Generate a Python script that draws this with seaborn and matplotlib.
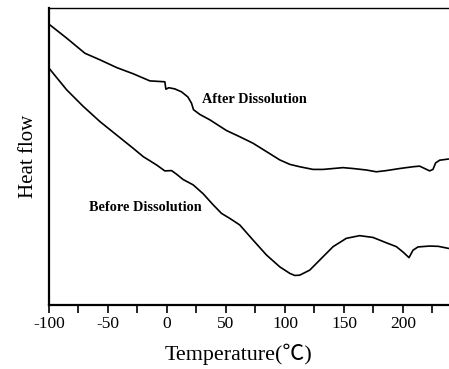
import pandas as pd
import matplotlib.pyplot as plt
import seaborn as sns
from matplotlib.ticker import MultipleLocator

sns.set_theme(style="white")
plt.rcParams["font.family"] = ["Liberation Serif", "Noto Sans CJK SC", "DejaVu Sans"]
plt.rcParams.update({
    "axes.unicode_minus": False,
    "text.color": "black",
    "axes.labelcolor": "black",
    "xtick.color": "black",
})

# DSC traces (arbitrary heat flow units)
after_temp = [-100, -85, -69.5, -56.8, -42.7, -28.6, -14.5, -1.8, -0.9, 1.6, 6.7, 12.4,
              17.7, 20.8, 22.5, 27.9, 36.3, 50.4, 61.7, 73.0, 84.3, 95.6, 104.1, 112.5,
              123.8, 132.3, 140.8, 149.2, 157.7, 169.0, 177.4, 185.9, 197.2, 208.5,
              214.1, 218.4, 222.6, 225.4, 227.7, 231.1, 238.7]
after_flow = [94.6, 89.9, 84.8, 82.6, 80.0, 77.9, 75.5, 75.2, 72.7, 73.2, 72.8, 71.8,
              70.1, 68.0, 65.8, 64.2, 62.4, 58.8, 56.7, 54.5, 51.7, 48.9, 47.4, 46.6,
              45.7, 45.7, 46.0, 46.3, 46.0, 45.5, 44.9, 45.3, 46.0, 46.6, 46.8, 46.0,
              45.2, 45.7, 47.9, 48.8, 49.2]

before_temp = [-100, -85, -70.9, -56.8, -42.7, -28.6, -20.1, -8.8, -1.8, 3.9, 8.1, 13.7,
               22.2, 30.7, 39.1, 46.2, 53.3, 61.7, 73.0, 84.3, 95.6, 104.1, 108.3, 112.5,
               121.0, 129.5, 140.8, 152.0, 163.3, 174.6, 185.9, 194.4, 200.0, 205.1,
               208.5, 212.7, 222.6, 230.0, 238.7]
before_flow = [79.8, 72.5, 66.9, 61.8, 57.3, 52.8, 50.0, 47.2, 45.2, 45.3, 44.1, 42.3,
               40.5, 37.5, 33.8, 30.9, 29.2, 27.0, 21.9, 16.9, 12.9, 10.7, 10.0, 10.1,
               11.8, 15.2, 19.7, 22.5, 23.4, 22.8, 21.0, 19.7, 17.9, 16.0,
               18.5, 19.6, 19.9, 19.8, 19.1]

df = pd.concat([
    pd.DataFrame({"temp": after_temp, "flow": after_flow, "sample": "After Dissolution"}),
    pd.DataFrame({"temp": before_temp, "flow": before_flow, "sample": "Before Dissolution"}),
])

fig = plt.figure(figsize=(4.49, 3.69), dpi=100)
ax = fig.add_axes([0.109, 0.173, 0.891, 0.805])

sns.lineplot(data=df, x="temp", y="flow", units="sample", estimator=None,
             color="black", linewidth=1.2, sort=False, legend=False, ax=ax)

ax.text(74, 69.4, "After Dissolution", ha="center", va="center",
        fontsize=10.3, fontweight="bold")
ax.text(-18, 33.0, "Before Dissolution", ha="center", va="center",
        fontsize=10.3, fontweight="bold")

ax.set_xlim(-100, 239)
ax.set_ylim(0, 100)
ax.xaxis.set_major_locator(MultipleLocator(50))
ax.xaxis.set_minor_locator(MultipleLocator(25))
ax.tick_params(axis="x", which="both", direction="out", length=6, width=1.2,
               bottom=True, labelsize=12.5, pad=2)
ax.set_yticks([])

for side in ["left", "bottom"]:
    ax.spines[side].set_linewidth(1.6)
    ax.spines[side].set_color("black")
ax.spines["top"].set_linewidth(1.0)
ax.spines["top"].set_color("black")
ax.spines["right"].set_visible(False)

ax.set_xlabel("Temperature(℃)", fontsize=15.8, labelpad=2)
ax.xaxis.set_label_coords(0.473, -0.13)
ax.set_ylabel("Heat flow", fontsize=15, labelpad=8)

plt.savefig("out.png", dpi=100)
